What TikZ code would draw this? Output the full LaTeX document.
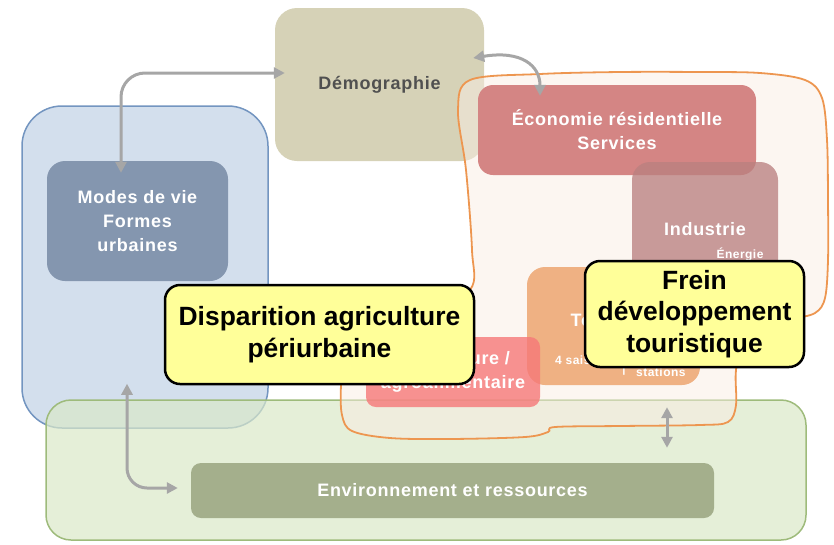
\documentclass[tikz,border=0pt]{standalone}
\usepackage{fontspec}
\setmainfont{Liberation Sans}
\newfontfamily\spc[LetterSpace=4]{Liberation Sans}
\usetikzlibrary{arrows.meta}
\definecolor{demofill}{RGB}{214,210,183}
\definecolor{demotext}{RGB}{80,80,80}
\definecolor{bluefill}{RGB}{211,223,237}
\definecolor{blueline}{RGB}{115,149,192}
\definecolor{modesfill}{RGB}{132,150,175}
\definecolor{ecofill}{RGB}{212,133,132}
\definecolor{indfill}{RGB}{186,128,128}
\definecolor{tourfill}{RGB}{239,177,131}
\definecolor{agrifill}{RGB}{246,120,120}
\definecolor{envfill}{RGB}{164,175,140}
\definecolor{greenfill}{RGB}{218,232,200}
\definecolor{greenline}{RGB}{158,187,123}
\definecolor{blobfill}{RGB}{249,237,227}
\definecolor{blobline}{RGB}{237,150,80}
\definecolor{calloutfill}{RGB}{255,255,153}
\definecolor{arrgray}{RGB}{166,166,166}
\begin{document}
\begin{tikzpicture}[x=1pt,y=-1pt,
  boxshape/.style={inner sep=0pt, draw=none},
  lbl/.style={font=\spc\bfseries\fontsize{18}{24}\selectfont, text=white, align=center},
  smalllbl/.style={font=\spc\bfseries\fontsize{12}{14}\selectfont, text=white, align=center, inner sep=0pt},
  callout/.style={draw=black, line width=2.5pt, fill=calloutfill, rounded corners=15pt, inner sep=0pt,
    font=\bfseries\fontsize{26.4}{31.5}\selectfont, align=center},
  biarrow/.style={draw=arrgray, line width=3pt, {Triangle[length=11pt,width=11pt]}-{Triangle[length=11pt,width=11pt]}},
]
\useasboundingbox (0,0) rectangle (834,544);

% big background boxes
\node[boxshape, rounded corners=40pt, fill=bluefill, draw=blueline, line width=1.5pt,
  minimum width=246pt, minimum height=322pt] (blue) at (145,267) {};
\node[boxshape, rounded corners=22pt, fill=demofill, minimum width=209pt, minimum height=153pt,
  font=\spc\bfseries\fontsize{18}{24}\selectfont, text=demotext] (demo) at (379.5,84.5) {Démographie};

% green box
\node[boxshape, rounded corners=25pt, fill=greenfill, fill opacity=0.7, draw=greenline, line width=1.5pt,
  minimum width=760pt, minimum height=140pt] (green) at (426,470) {};

% orange blob
\path[fill=blobfill, fill opacity=0.5, draw=blobline, line width=1.8pt]
  plot[smooth cycle, tension=0.55] coordinates {
  (470,80) (540,74) (620,72) (700,72) (760,73) (805,80) (822,98) (827,140) (828,200) (828,260)
  (825,298) (815,313) (790,320) (745,335) (736,370) (736,405) (728,422) (700,425) (620,426)
  (555,427) (548,432) (525,437) (450,439) (390,438) (352,431) (342,415) (341,385) (345,345)
  (420,320) (470,290) (472,250) (466,170) (458,110)};

% inner boxes
\node[boxshape, rounded corners=18pt, fill=modesfill, minimum width=181pt, minimum height=120pt, lbl]
  (modes) at (137.5,221) {Modes de vie\\Formes\\urbaines};
\node[boxshape, rounded corners=15pt, fill=ecofill, minimum width=278pt, minimum height=90pt, lbl]
  (eco) at (617,130) {Économie résidentielle\\Services};
\node[boxshape, rounded corners=18pt, fill=indfill, fill opacity=0.78, minimum width=146pt, minimum height=128pt]
  (ind) at (705,226) {};
\node[lbl] (indtxt) at (705,229) {Industrie};
\node[smalllbl] (energie) at (740,254) {Énergie};
\node[boxshape, rounded corners=18pt, fill=tourfill, minimum width=173pt, minimum height=118pt]
  (tour) at (613.5,326) {};
\node[lbl] (tourtxt) at (613,320) {Tourisme};
\node[smalllbl, anchor=west] (saisons) at (555,360) {4 saisons};
\node[smalllbl, font=\fontsize{18}{20}\selectfont] (bar) at (624,367) {|};
\node[smalllbl, anchor=west] (stations) at (636,372) {stations};
\node[boxshape, rounded corners=10pt, fill=agrifill, fill opacity=0.8, minimum width=174pt, minimum height=70pt]
  (agri) at (453,372) {};
\node[lbl] (agritxt) at (453,372) {Agriculture /\\agroalimentaire};
\node[boxshape, rounded corners=10pt, fill=envfill, minimum width=523pt, minimum height=55pt, lbl]
  (env) at (452.5,490.5) {Environnement et ressources};

% arrows
\draw[biarrow, rounded corners=24pt] ([xshift=-16.5pt,yshift=-12pt]modes.north) |- ([xshift=10pt,yshift=11.5pt]demo.west);
\draw[biarrow] ([xshift=-11pt,yshift=26.5pt]demo.east) .. controls (522,50) and (540,66) .. ([xshift=-77pt,yshift=-11pt]eco.north);
\draw[biarrow, rounded corners=20pt] ([xshift=-18pt,yshift=45pt]blue.south) |- ([xshift=-13pt,yshift=2.5pt]env.west);
\draw[biarrow] ([xshift=53.5pt,yshift=-22pt]tour.south) -- ([xshift=214.5pt,yshift=15pt]env.north);

% callouts
\node[callout, minimum width=309pt, minimum height=99pt] (disp) at (319.5,334.5)
  {Disparition agriculture\\périurbaine};
\node[callout, minimum width=219pt, minimum height=106pt] (frein) at (694.5,314)
  {Frein\\développement\\touristique};
\end{tikzpicture}
\end{document}
